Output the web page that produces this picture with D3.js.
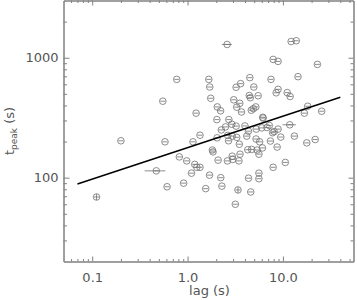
<!DOCTYPE html>
<meta charset="utf-8">
<style>
body { margin: 0; background: #fff; }
svg { display: block; background: #fff; }
.axis path, .axis line { stroke: #808080; stroke-width: 1px; }
.axis text { fill: #555; font-family: "DejaVu Sans", sans-serif; font-size: 13px; }
.pt circle { fill: none; stroke: #707070; stroke-width: 0.8px; }
.pt line, .err { stroke: #707070; stroke-width: 0.8px; }
.fit { stroke: #000; stroke-width: 1.5px; fill: none; }
.title { fill: #555; font-family: "DejaVu Sans", sans-serif; font-size: 13px; }
</style>
<body>
<svg></svg>
<script src="https://d3js.org/d3.v7.min.js"></script>
<script>

// lag (s) and peak time (s) for each burst
var lag = [2.6, 12.2, 13.8, 7.9, 8.9, 23, 0.77, 1.67, 4.5, 7.5,
	14.4, 0.55, 1.71, 3.6, 3.23, 4.95, 8.9, 8.5, 11.1, 11.9,
	1.75, 3.05, 3.53, 4.44, 4.55, 5.5, 3.28, 2.05, 2.22, 1.23,
	3.68, 4.66, 4.9, 5.2, 18.2, 16.8, 25.5, 6.15, 6.2, 2.03,
	2.71, 2.91, 3.23, 2.5, 2.26, 4.0, 5.25, 6.0, 6.8, 7.2,
	8.9, 11.8, 4.35, 7.8, 8.1, 1.35, 2.64, 2.94, 2.69, 3.28,
	3.49, 4.18, 2.04, 5.23, 5.7, 7.4, 9.5, 13.2, 21.8, 17.8,
	1.14, 0.58, 0.2, 1.82, 1.85, 4.28, 4.7, 5.36, 6.1, 8.7,
	5.6, 0.82, 0.98, 2.09, 2.94, 2.98, 2.62, 3.46, 3.55, 0.47,
	1.19, 1.25, 1.35, 1.1, 1.7, 2.23, 4.36, 5.6, 5.6, 7.9,
	10.6, 0.61, 0.91, 2.29, 1.55, 3.38, 4.6, 3.17, 0.111];

var tpeak = [1290, 1365, 1385, 968, 932, 880, 660, 660, 682, 660,
	695, 434, 570, 608, 567, 570, 545, 510, 512, 475,
	459, 446, 417, 484, 464, 482, 387, 389, 361, 345,
	353, 365, 376, 389, 394, 345, 358, 319, 314, 305,
	305, 279, 269, 265, 250, 270, 254, 260, 262, 272,
	254, 276, 244, 237, 242, 226, 225, 222, 203, 217,
	190, 222, 215, 210, 199, 202, 218, 222, 208, 195,
	199, 199, 203, 170, 164, 171, 172, 170, 177, 180,
	157, 149, 138, 140, 151, 142, 138, 138, 157, 114,
	129, 122, 122, 109, 105, 100, 99, 109, 98, 122,
	134, 84, 90, 85, 81, 79, 76, 60, 69];

// the few points with error bars that stick out of the symbol
var lagErrIdx = [0, 51, 89];
var lagErr = [0.31, 1.9, 0.115];
var tpeakErrIdx = [105, 108];
var tpeakErr = [4.5, 4];

// power-law fit: tpeak = norm * lag^index
var fitNorm = 178, fitIndex = 0.262, fitRange = [0.07, 40];

var xTicks = [0.1, 1, 10];
var xTickLabels = ["0.1", "1.0", "10.0"];
var yTicks = [100, 1000];
var yTickLabels = ["100", "1000"];

var width = 357, height = 300;
var margin = {top: 0.5, right: 3.5, bottom: 38.5, left: 63.5};

var svg = d3.select("svg").attr("width", width).attr("height", height);

var x = d3.scaleLog().domain([0.05, 55]).range([margin.left, width - margin.right]);
var y = d3.scaleLog().domain([20, 3000]).range([height - margin.bottom, margin.top]);

// minor ticks 2..9 of every decade inside the domain
function minors(scale) {
	var d = scale.domain(), out = [];
	for (var e = -3; e < 5; e++) {
		for (var m = 2; m < 10; m++) {
			var v = m * Math.pow(10, e);
			if (v > d[0] * 1.001 && v < d[1] * 0.999) out.push(+v.toPrecision(3));
		}
	}
	return out;
}
var xMinor = minors(x), yMinor = minors(y);

function fmt(ticks, labels) {
	return function(d) { return labels[ticks.indexOf(d)]; };
}

var x0 = height - margin.bottom, y0 = margin.left;

// bottom
svg.append("g").attr("class", "axis").attr("transform", "translate(0," + x0 + ")")
	.call(d3.axisBottom(x).tickValues(xTicks).tickFormat(fmt(xTicks, xTickLabels))
		.tickSize(-5).tickSizeOuter(0).tickPadding(11));
svg.append("g").attr("class", "axis").attr("transform", "translate(0," + x0 + ")")
	.call(d3.axisBottom(x).tickValues(xMinor).tickFormat("").tickSize(-2.5).tickSizeOuter(0));
// top
svg.append("g").attr("class", "axis").attr("transform", "translate(0," + margin.top + ")")
	.call(d3.axisTop(x).tickValues(xTicks).tickFormat("").tickSize(-5).tickSizeOuter(0));
svg.append("g").attr("class", "axis").attr("transform", "translate(0," + margin.top + ")")
	.call(d3.axisTop(x).tickValues(xMinor).tickFormat("").tickSize(-2.5).tickSizeOuter(0));
// left
svg.append("g").attr("class", "axis").attr("transform", "translate(" + y0 + ",0)")
	.call(d3.axisLeft(y).tickValues(yTicks).tickFormat(fmt(yTicks, yTickLabels))
		.tickSize(-6).tickSizeOuter(0).tickPadding(5));
svg.append("g").attr("class", "axis").attr("transform", "translate(" + y0 + ",0)")
	.call(d3.axisLeft(y).tickValues(yMinor).tickFormat("").tickSize(-3.5).tickSizeOuter(0));
// right
svg.append("g").attr("class", "axis").attr("transform", "translate(" + (width - margin.right) + ",0)")
	.call(d3.axisRight(y).tickValues(yTicks).tickFormat("").tickSize(-5).tickSizeOuter(0));
svg.append("g").attr("class", "axis").attr("transform", "translate(" + (width - margin.right) + ",0)")
	.call(d3.axisRight(y).tickValues(yMinor).tickFormat("").tickSize(-3).tickSizeOuter(0));

// axis titles
svg.append("text").attr("class", "title")
	.attr("x", (margin.left + width - margin.right) / 2 + 1).attr("y", 295)
	.attr("text-anchor", "middle").text("lag (s)");

var yt = svg.append("text").attr("class", "title")
	.attr("transform", "translate(14,131) rotate(-90)")
	.attr("text-anchor", "middle");
yt.append("tspan").text("t");
yt.append("tspan").attr("font-size", "9px").attr("dy", 3).text("peak");
yt.append("tspan").attr("dy", -3).text(" (s)");

// error bars
var r = 3.3;
lagErrIdx.forEach(function(i, k) {
	svg.append("line").attr("class", "err")
		.attr("x1", x(lag[i] - lagErr[k])).attr("x2", x(lag[i] + lagErr[k]))
		.attr("y1", y(tpeak[i])).attr("y2", y(tpeak[i]));
});
tpeakErrIdx.forEach(function(i, k) {
	svg.append("line").attr("class", "err")
		.attr("x1", x(lag[i])).attr("x2", x(lag[i]))
		.attr("y1", y(tpeak[i] - tpeakErr[k])).attr("y2", y(tpeak[i] + tpeakErr[k]));
});

// points: circle with the lag error dash inside
var pts = svg.append("g").selectAll(".pt")
	.data(d3.range(lag.length))
	.enter().append("g")
	.attr("class", "pt")
	.attr("transform", function(i) { return "translate(" + x(lag[i]) + "," + y(tpeak[i]) + ")"; });
pts.append("circle").attr("r", r);
pts.append("line").attr("x1", -r + 0.8).attr("x2", r - 0.8).attr("y1", 0).attr("y2", 0);

// fit line
var line = d3.line().x(function(d) { return x(d); })
	.y(function(d) { return y(fitNorm * Math.pow(d, fitIndex)); });
svg.append("path").attr("class", "fit").attr("d", line(fitRange));

</script>
</body>
